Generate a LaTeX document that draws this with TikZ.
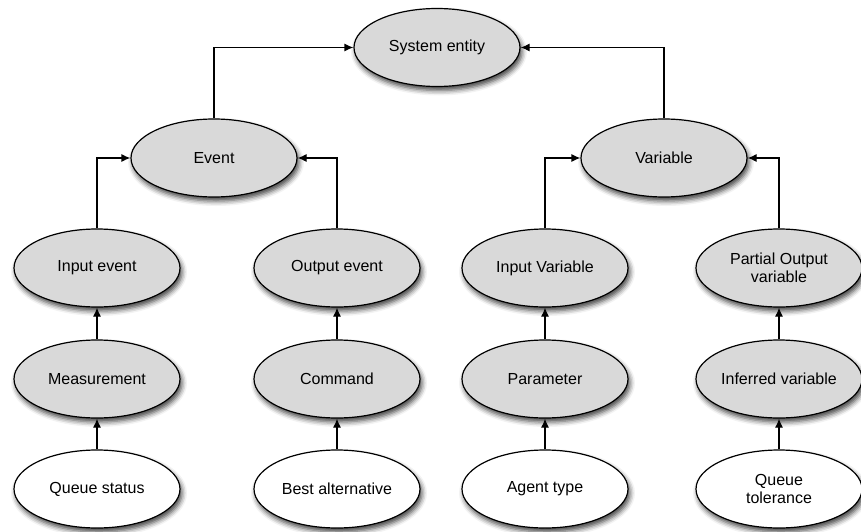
\documentclass[tikz,border=0pt]{standalone}
\usepackage{fontspec}
\setmainfont{Liberation Sans}
\usetikzlibrary{arrows.meta,shadows.blur,shapes.geometric}
\definecolor{nodegray}{HTML}{D9D9D9}
\tikzset{
  x=1pt, y=-1pt,
  entity/.style={ellipse, draw=black, line width=1.2pt, fill=nodegray,
    minimum width=166pt, minimum height=78pt, inner sep=0pt, align=center,
    font=\fontsize{16}{18.5}\selectfont,
    blur shadow={shadow xshift=2pt, shadow yshift=-4pt, shadow opacity=75, shadow blur radius=5pt}},
  leaf/.style={entity, fill=white},
  link/.style={line width=1.2pt, -{Latex[length=9pt,width=8pt]}}
}
\begin{document}
\begin{tikzpicture}
\useasboundingbox (0,0) rectangle (861,532);
% top level
\node[entity] (sys) at (437,47.5) {System entity};
% second level
\node[entity] (event) at (214,158) {Event};
\node[entity] (var)   at (664,158) {Variable};
% third level
\node[entity] (inev)  at (97,268)  {Input event};
\node[entity] (outev) at (337,268) {Output event};
\node[entity] (invar) at (545,268) {Input Variable};
\node[entity] (pov)   at (779,268) {Partial Output\\variable};
% fourth level
\node[entity] (meas)  at (97,379)  {Measurement};
\node[entity] (cmd)   at (337,379) {Command};
\node[entity] (param) at (545,379) {Parameter};
\node[entity] (infer) at (779,379) {Inferred variable};
% leaves
\node[leaf] (qstat) at (97,489)  {Queue status};
\node[leaf] (best)  at (337,489) {Best alternative};
\node[leaf] (agent) at (545,489) {Agent type};
\node[leaf] (qtol)  at (779,489) {Queue\\tolerance};
% connectors
\draw[link] (event.north) |- (sys.west);
\draw[link] (var.north) |- (sys.east);
\draw[link] (inev.north) |- (event.west);
\draw[link] (outev.north) |- (event.east);
\draw[link] (invar.north) |- (var.west);
\draw[link] (pov.north) |- (var.east);
\draw[link] (meas) -- (inev);
\draw[link] (cmd) -- (outev);
\draw[link] (param) -- (invar);
\draw[link] (infer) -- (pov);
\draw[link] (qstat) -- (meas);
\draw[link] (best) -- (cmd);
\draw[link] (agent) -- (param);
\draw[link] (qtol) -- (infer);
\end{tikzpicture}
\end{document}
